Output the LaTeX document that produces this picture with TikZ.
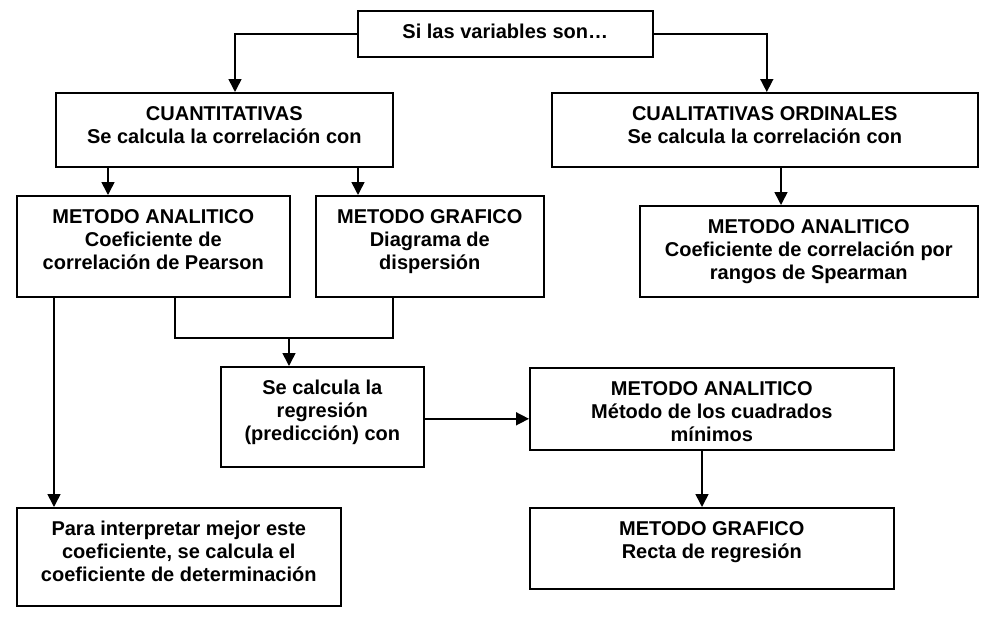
\documentclass[tikz,border=0pt]{standalone}
\usepackage{fontspec}
\setmainfont{Liberation Sans}
\usetikzlibrary{arrows.meta}
\newcommand{\bxt}[3]{\parbox[c][#2][t]{#1}{\centering\rule{0pt}{27.5pt}#3}}
\begin{document}
\begin{tikzpicture}[x=1pt,y=-1pt,
  boxn/.style={draw,line width=1.6pt,inner sep=0pt,anchor=north west,font=\fontsize{20}{23}\selectfont\bfseries},
  arr/.style={line width=1.6pt,-{Triangle[length=13pt,width=13pt]}},
  ln/.style={line width=1.6pt}]
\useasboundingbox (0,0) rectangle (1002,621);
\node[boxn] (top) at (357,10) {\bxt{295pt}{46pt}{Si las variables son…}};
\node[boxn] (cuant) at (55,92) {\bxt{337pt}{74pt}{CUANTITATIVAS\\Se calcula la correlación con}};
\node[boxn] (cual) at (551,92) {\bxt{426pt}{74pt}{CUALITATIVAS ORDINALES\\Se calcula la correlación con}};
\node[boxn] (ma1) at (16,195) {\bxt{273pt}{101pt}{METODO ANALITICO\\Coeficiente de\\correlación de Pearson}};
\node[boxn] (mg1) at (315,195) {\bxt{228pt}{101pt}{METODO GRAFICO\\Diagrama de\\dispersión}};
\node[boxn] (spear) at (639,205) {\bxt{338pt}{91pt}{METODO ANALITICO\\Coeficiente de correlación por\\rangos de Spearman}};
\node[boxn] (reg) at (220,366) {\bxt{203pt}{100pt}{Se calcula la\\regresión\\(predicción) con}};
\node[boxn] (ma2) at (529,367) {\bxt{364pt}{82pt}{METODO ANALITICO\\Método de los cuadrados\\mínimos}};
\node[boxn] (mg2) at (529,507) {\bxt{364pt}{81pt}{METODO GRAFICO\\Recta de regresión}};
\node[boxn] (para) at (16,507) {\bxt{324pt}{98pt}{Para interpretar mejor este\\coeficiente, se calcula el\\coeficiente de determinación}};
% helper coordinates
\coordinate (cA) at (235,0);
\coordinate (c108) at (108,0);
\coordinate (c358) at (358,0);
\coordinate (c781) at (781,0);
\coordinate (c54) at (54,0);
\coordinate (jl) at (175,338);
\coordinate (jr) at (393,338);
\coordinate (jm) at (289,338);
\coordinate (c702) at (702,0);
% connectors
\draw[arr] (top.west) -| (cuant.north -| cA);
\draw[arr] (top.east) -| ([xshift=2pt]cual.north);
\draw[arr] (cuant.south -| c108) -- (ma1.north -| c108);
\draw[arr] (cuant.south -| c358) -- (mg1.north -| c358);
\draw[arr] (cual.south -| c781) -- (spear.north -| c781);
\draw[arr] (ma1.south -| c54) -- (para.north -| c54);
\draw[ln] (ma1.south -| jl) -- (jl) -- (jr) -- (mg1.south -| jr);
\draw[arr] (jm) -- (reg.north -| jm);
\draw[arr] ([yshift=-2pt]reg.east) -- ([yshift=-2pt]reg.east -| ma2.west);
\draw[arr] (ma2.south -| c702) -- (mg2.north -| c702);
\end{tikzpicture}
\end{document}
